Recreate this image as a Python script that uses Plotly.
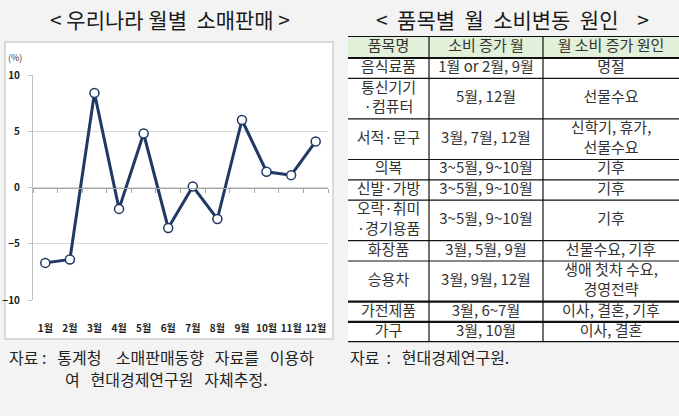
import plotly.graph_objects as go

# ---------------- data ----------------
months = ["1월", "2월", "3월", "4월", "5월", "6월", "7월", "8월", "9월", "10월", "11월", "12월"]
retail_change = [-6.7, -6.4, 8.4, -1.9, 4.8, -3.6, 0.1, -2.8, 6.0, 1.4, 1.1, 4.1]
y_ticks = [-10, -5, 0, 5, 10]

tbl_header = ["품목명", "소비 증가 월", "월 소비 증가 원인"]
tbl_items = ["음식료품", "통신기기<br>·컴퓨터", "서적·문구", "의복", "신발·가방",
             "오락·취미<br>·경기용품", "화장품", "승용차", "가전제품", "가구"]
tbl_months = ["1월 or 2월, 9월", "5월, 12월", "3월, 7월, 12월", "3~5월, 9~10월", "3~5월, 9~10월",
              "3~5월, 9~10월", "3월, 5월, 9월", "3월, 9월, 12월", "3월, 6~7월", "3월, 10월"]
tbl_reasons = ["명절", "선물수요", "신학기, 휴가,<br>선물수요", "기후", "기후",
               "기후", "선물수요, 기후", "생애 첫차 수요,<br>경영전략", "이사, 결혼, 기후", "이사, 결혼"]

# ---------------- style ----------------
W, H = 679, 416
FONT = "Noto Sans CJK KR"
NAVY = "#1f3864"
TXT = "#222222"
SP = "\u00a0"

col_px = [81, 114, 136]          # table column widths (px)
LINE_PX = 20.3                   # table row height per text line (px)
HEADER_PX = 22
TABLE_TOP = 36
TABLE_LEFT = 348


def px_x(v):
    return v / W


def px_y(v):
    return 1 - v / H


fig = go.Figure()

# ---------------- line chart ----------------
fig.add_trace(go.Scatter(
    x=months, y=retail_change, mode="lines+markers",
    line=dict(color=NAVY, width=3),
    marker=dict(symbol="circle", size=9, color="white", line=dict(color=NAVY, width=1.5)),
    showlegend=False, hoverinfo="skip", xaxis="x", yaxis="y",
))
# invisible helper trace so the zero-line axis (with boundary ticks) is drawn
fig.add_trace(go.Scatter(
    x=list(range(1, len(months) + 1)), y=retail_change, mode="markers",
    marker=dict(opacity=0), showlegend=False, hoverinfo="skip", xaxis="x2", yaxis="y",
))

# ---------------- table (built on its own axes) ----------------
columns = [tbl_items, tbl_months, tbl_reasons]
n_lines = [max(col[i].count("<br>") + 1 for col in columns) for i in range(len(tbl_items))]
row_h = [HEADER_PX] + [n * LINE_PX for n in n_lines]
bounds = [0.0]
for h in row_h:
    bounds.append(bounds[-1] + h)
total_h = bounds[-1]
total_w = sum(col_px)
col_edges = [0.0]
for w in col_px:
    col_edges.append(col_edges[-1] + w)
col_centers = [(col_edges[j] + col_edges[j + 1]) / 2 for j in range(len(col_px))]
row_centers = [(bounds[i] + bounds[i + 1]) / 2 for i in range(len(row_h))]

tx, ty, tt = [], [], []
for j, head in enumerate(tbl_header):
    tx.append(col_centers[j]); ty.append(row_centers[0]); tt.append(head)
for j, col in enumerate(columns):
    for i, val in enumerate(col):
        tx.append(col_centers[j]); ty.append(row_centers[i + 1]); tt.append(val)

fig.add_trace(go.Scatter(
    x=tx, y=ty, text=tt, mode="text", textposition="middle center",
    textfont=dict(family=FONT, size=15, color="#333333"),
    showlegend=False, hoverinfo="skip", xaxis="x3", yaxis="y3", cliponaxis=False,
))

shapes = [
    # left chart frame
    dict(type="rect", xref="paper", yref="paper", layer="below",
         x0=px_x(5), x1=px_x(333), y0=px_y(339), y1=px_y(42),
         fillcolor="white", line=dict(color="#d0d0d0", width=1.5)),
    # table fills
    dict(type="rect", xref="x3", yref="y3", layer="below",
         x0=0, x1=total_w, y0=bounds[0], y1=bounds[1],
         fillcolor="#e2efd9", line=dict(width=0)),
    dict(type="rect", xref="x3", yref="y3", layer="below",
         x0=0, x1=total_w, y0=bounds[1], y1=total_h,
         fillcolor="white", line=dict(width=0)),
]
# horizontal rules
heavy_rows = {0, 1, len(bounds) - 1, len(bounds) - 2, len(bounds) - 3}
for k, b in enumerate(bounds):
    shapes.append(dict(type="line", xref="x3", yref="y3", x0=0, x1=total_w, y0=b, y1=b,
                       line=dict(color="#111111", width=2.2 if k in heavy_rows else 1.2)))
# vertical rules (inner)
for e in col_edges[1:-1]:
    shapes.append(dict(type="line", xref="x3", yref="y3", x0=e, x1=e, y0=0, y1=total_h,
                       line=dict(color="#111111", width=1.2)))

plot_x = [px_x(33), px_x(328)]
plot_y = [px_y(300), px_y(75)]

fig.update_layout(
    width=W, height=H,
    margin=dict(l=0, r=0, t=0, b=0, pad=0),
    paper_bgcolor="#f3f3f3",
    plot_bgcolor="rgba(0,0,0,0)",
    font=dict(family=FONT, color=TXT),
    xaxis=dict(
        domain=plot_x, type="category", categoryorder="array", categoryarray=months,
        range=[-0.5, len(months) - 0.5],
        showline=False, showgrid=False, zeroline=False,
        ticks="outside", ticklen=19, tickcolor="rgba(0,0,0,0)", tickangle=0,
        tickfont=dict(family=FONT, size=10, color=TXT, weight="bold"),
        anchor="y", automargin=False,
    ),
    xaxis2=dict(
        overlaying="x", anchor="free",
        position=plot_y[0] + (plot_y[1] - plot_y[0]) * 0.5,
        range=[0.5, len(months) + 0.5], tick0=0.5, dtick=1,
        showticklabels=False, showgrid=False, zeroline=False,
        showline=True, linecolor="#a6a6a6", linewidth=1.2,
        ticks="outside", ticklen=4, tickcolor="#a6a6a6", tickwidth=1,
    ),
    yaxis=dict(
        domain=plot_y, range=[-10, 10], tickvals=y_ticks,
        showgrid=True, gridcolor="#d9d9d9", gridwidth=1,
        zeroline=False,
        showline=True, linecolor="#bfbfbf", linewidth=1,
        ticks="outside", ticklen=4, tickcolor="#bfbfbf", ticklabelstandoff=6,
        tickfont=dict(family=FONT, size=10, color=TXT, weight="bold"),
        anchor="x", automargin=False,
    ),
    xaxis3=dict(domain=[px_x(TABLE_LEFT), px_x(TABLE_LEFT + total_w)], range=[0, total_w],
                visible=False, anchor="y3", fixedrange=True),
    yaxis3=dict(domain=[px_y(TABLE_TOP + total_h), px_y(TABLE_TOP)], range=[total_h, 0],
                visible=False, anchor="x3", fixedrange=True),
    shapes=shapes,
    annotations=[
        dict(text="< 우리나라 월별" + SP + " 소매판매 >", x=px_x(170), y=px_y(19),
             xref="paper", yref="paper",
             xanchor="center", yanchor="middle", showarrow=False,
             font=dict(family=FONT, size=21, color="#1a1a1a")),
        dict(text="<" + SP + " 품목별" + SP + " 월" + SP + " 소비변동" + SP + " 원인" + SP * 3 + " >",
             x=px_x(512), y=px_y(19), xref="paper", yref="paper",
             xanchor="center", yanchor="middle", showarrow=False,
             font=dict(family=FONT, size=21, color="#1a1a1a")),
        dict(text="(%)", x=px_x(15), y=px_y(58), xref="paper", yref="paper",
             xanchor="center", yanchor="middle", showarrow=False,
             font=dict(family=FONT, size=9, color="#333333")),
        dict(text="자료" + SP + ":" + SP * 2 + " 통계청" + SP * 3 + " 소매판매동향" + SP * 2 + " 자료를"
                  + SP * 2 + " 이용하",
             x=px_x(7), y=px_y(357),
             xref="paper", yref="paper", xanchor="left", yanchor="middle", showarrow=False,
             font=dict(family=FONT, size=16, color=TXT)),
        dict(text="여" + SP * 2 + " 현대경제연구원" + SP * 2 + " 자체추정.", x=px_x(63), y=px_y(379),
             xref="paper", yref="paper", xanchor="left", yanchor="middle", showarrow=False,
             font=dict(family=FONT, size=16, color=TXT)),
        dict(text="자료" + SP + " :" + SP * 2 + " 현대경제연구원.", x=px_x(348), y=px_y(357),
             xref="paper", yref="paper", xanchor="left", yanchor="middle", showarrow=False,
             font=dict(family=FONT, size=16, color=TXT)),
    ],
)

fig.write_html(
    "out.html",
    config={"displayModeBar": False, "responsive": False},
    post_script=(
        "document.documentElement.style.margin='0';"
        "document.documentElement.style.padding='0';"
        "document.body.style.margin='0';"
        "document.body.style.padding='0';"
        "document.documentElement.style.overflow='hidden';"
        "document.body.style.overflow='hidden';"
    ),
)
